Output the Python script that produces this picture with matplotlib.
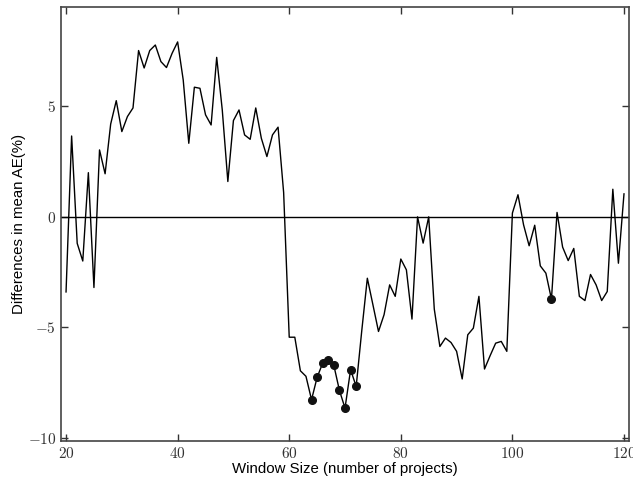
import numpy as np
import matplotlib
matplotlib.use("Agg")
from matplotlib import pyplot as plt
from matplotlib.ticker import FuncFormatter

plt.rcParams['font.family'] = ['Liberation Sans', 'DejaVu Sans']
plt.rcParams['mathtext.fontset'] = 'cm'

# window sizes and the difference in mean AE for each
window = np.arange(20, 121)
diff_ae = [
    -3.4, 3.66, -1.2, -2.0, 2.0, -3.2, 3.03, 1.95, 4.2, 5.26,
    3.86, 4.54, 4.93, 7.53, 6.74, 7.53, 7.78, 7.03, 6.76, 7.4,
    7.92, 6.2, 3.33, 5.87, 5.82, 4.62, 4.16, 7.22, 4.84, 1.6,
    4.36, 4.84, 3.71, 3.51, 4.93, 3.56, 2.73, 3.71, 4.06, 1.1,
    -5.45, -5.45, -6.97, -7.22, -8.28, -7.27, -6.62, -6.47, -6.73, -7.86,
    -8.66, -6.92, -7.68, -5.16, -2.78, -3.98, -5.19, -4.43, -3.08, -3.6,
    -1.91, -2.4, -4.63, 0.0, -1.19, 0.0, -4.18, -5.87, -5.49, -5.69,
    -6.09, -7.34, -5.34, -5.04, -3.6, -6.89, -6.29, -5.72, -5.64, -6.09,
    0.17, 1.0, -0.36, -1.31, -0.38, -2.22, -2.55, -3.73, 0.2, -1.37,
    -1.98, -1.43, -3.6, -3.79, -2.61, -3.08, -3.79, -3.38, 1.25, -2.1,
    1.04,
]
diff_ae = np.array(diff_ae)

# windows where the difference is significant
marked = [64, 65, 66, 67, 68, 69, 70, 71, 72, 107]

fig = plt.figure(figsize=(6.33, 4.91), dpi=100)
ax = fig.add_axes([0.0964, 0.1018, 0.8973, 0.8839])

ax.axhline(0, color='black', lw=1.0)
ax.plot(window, diff_ae, color='black', lw=1.0)
idx = np.isin(window, marked)
ax.plot(window[idx], diff_ae[idx], 'o', color='#111111', ms=5.5, ls='none')

ax.set_xlim(19.1, 120.9)
ax.set_ylim(-10.15, 9.5)
ax.set_xticks([20, 40, 60, 80, 100, 120])
ax.set_yticks([-10, -5, 0, 5])

tex = FuncFormatter(lambda v, p: r'$%d$' % v)
ax.xaxis.set_major_formatter(tex)
ax.yaxis.set_major_formatter(tex)

ax.tick_params(direction='in', top=True, right=True, length=5, width=1,
               labelsize=11, color='#333333', labelcolor='#333333')
for s in ax.spines.values():
    s.set_color('#444444')
    s.set_linewidth(1.2)

ax.set_xlabel('Window Size (number of projects)', fontsize=10.8, labelpad=1)
ax.set_ylabel('Differences in mean AE(%)', fontsize=10.8, labelpad=1)

plt.savefig('out.png', dpi=100)
